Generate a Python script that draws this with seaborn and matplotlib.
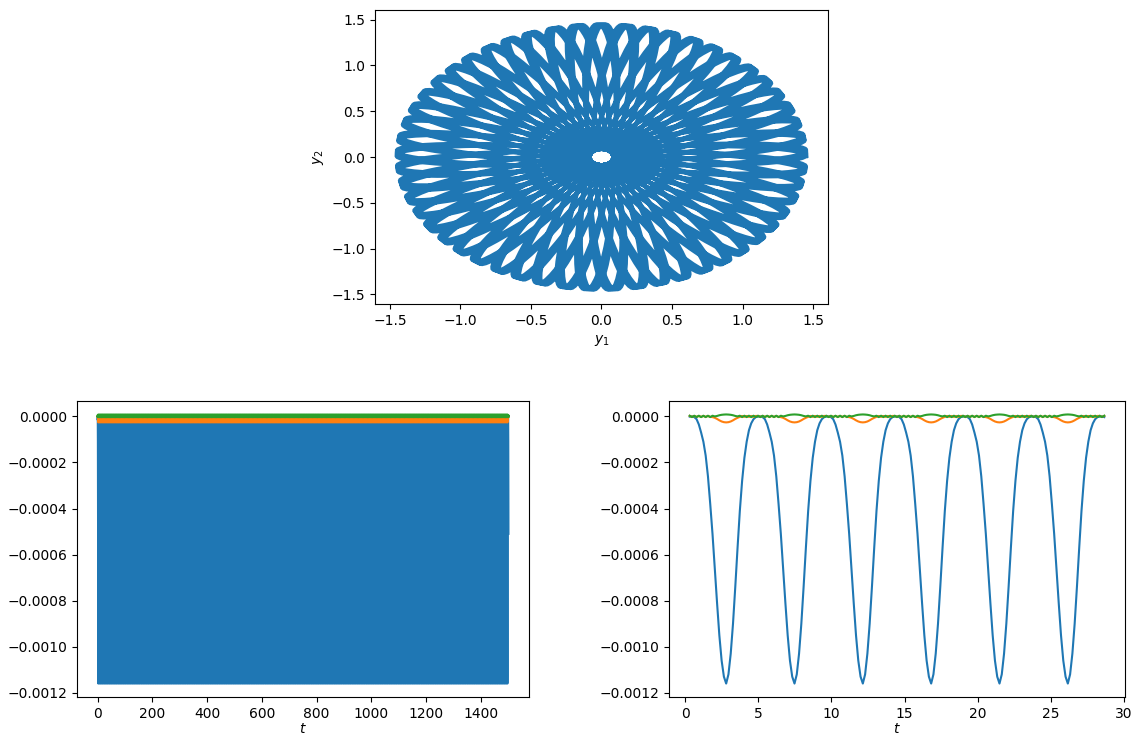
import matplotlib
matplotlib.use("Agg")
import matplotlib.pyplot as plt
import numpy as np
import pandas as pd
import seaborn as sns

## VALUES

# sampling of the run (one error period = 30 samples, run ends just after t=1500)
h = 4.67 / 30
n_samples = 9643

# one period of the three error curves (blue in 1e-4, orange/green in 1e-5)
err_blue = [-0.01, 0.0, -0.03, -0.12, -0.35, -0.7, -1.1, -1.7, -2.6, -3.8,
            -5.1, -6.6, -8.1, -9.5, -10.6, -11.3, -11.6, -11.2, -10.3, -9.0,
            -7.4, -5.7, -4.1, -2.8, -1.8, -1.1, -0.6, -0.3, -0.12, -0.03]
err_orange = [0.2, -0.2, 0.2, -0.2, 0.2, -0.2, 0.2, -0.2, 0.2, -0.2,
              -0.3, -0.6, -1.1, -1.7, -2.2, -2.5, -2.6, -2.5, -2.2, -1.7,
              -1.1, -0.6, -0.2, 0.2, -0.2, 0.2, -0.2, 0.2, -0.2, 0.2]
err_green = [0.3, -0.3, 0.3, -0.3, 0.3, -0.3, 0.3, -0.3, 0.3, -0.3,
             0.3, 0.0, 0.2, 0.5, 0.7, 0.8, 0.85, 0.8, 0.7, 0.5,
             0.2, 0.0, 0.3, -0.3, 0.3, -0.3, 0.3, -0.3, 0.3, -0.3]

# zoomed panel: samples 2..184 of the run
zoom_first, zoom_last = 2, 185

# orbit in the (y1, y2) plane
r_outer = 1.46      # tip radius of the petals
r_hole = 0.077      # radius of the empty hole in the centre
n_petals = 53       # petal tips around the rim
petal_skip = 3      # the orbit turns by 3 petal slots (plus half a turn) per half orbit
drift = 1.8e-4      # slow drift of the petals over the run (rad per half orbit)

## BUILD THE SERIES

n = np.arange(n_samples)
t = n * h
idx = (n - zoom_first) % len(err_blue)
e_blue = np.array(err_blue)[idx] * 1e-4
e_orange = np.array(err_orange)[idx] * 1e-5
e_green = np.array(err_green)[idx] * 1e-5

psi = np.pi * n / len(err_blue)
rot = n * (petal_skip * np.pi / n_petals + drift) / len(err_blue)
y1 = r_outer * np.cos(psi) * np.cos(rot) - r_hole * np.sin(psi) * np.sin(rot)
y2 = r_outer * np.cos(psi) * np.sin(rot) + r_hole * np.sin(psi) * np.cos(rot)

orbit = pd.DataFrame({"y1": y1, "y2": y2})
errs = pd.DataFrame({"t": t, "blue": e_blue, "orange": e_orange, "green": e_green})
errs_zoom = errs.iloc[zoom_first:zoom_last]

## PLOT

fig = plt.figure(figsize=(11.33, 7.35), dpi=100)
W, H = 1133, 735
ax_top = fig.add_axes([375 / W, 1 - 304 / H, 453 / W, 294 / H])
ax_l = fig.add_axes([77 / W, 1 - 697 / H, 452 / W, 296 / H])
ax_r = fig.add_axes([669 / W, 1 - 697 / H, 456 / W, 296 / H])

sns.lineplot(data=orbit, x="y1", y="y2", sort=False, estimator=None,
             color="C0", lw=1.5, ax=ax_top)
ax_top.set_xlabel("$y_1$")
ax_top.set_ylabel("$y_2$")

for ax, d in [(ax_l, errs), (ax_r, errs_zoom)]:
    for col, c in [("blue", "C0"), ("orange", "C1"), ("green", "C2")]:
        sns.lineplot(data=d, x="t", y=col, sort=False, estimator=None,
                     color=c, lw=1.5, ax=ax)
    ax.set_xlabel("$t$", labelpad=1)
    ax.set_ylabel("")

ax_r.set_xticks([0, 5, 10, 15, 20, 25, 30])

fig.savefig("out.png", dpi=100)
